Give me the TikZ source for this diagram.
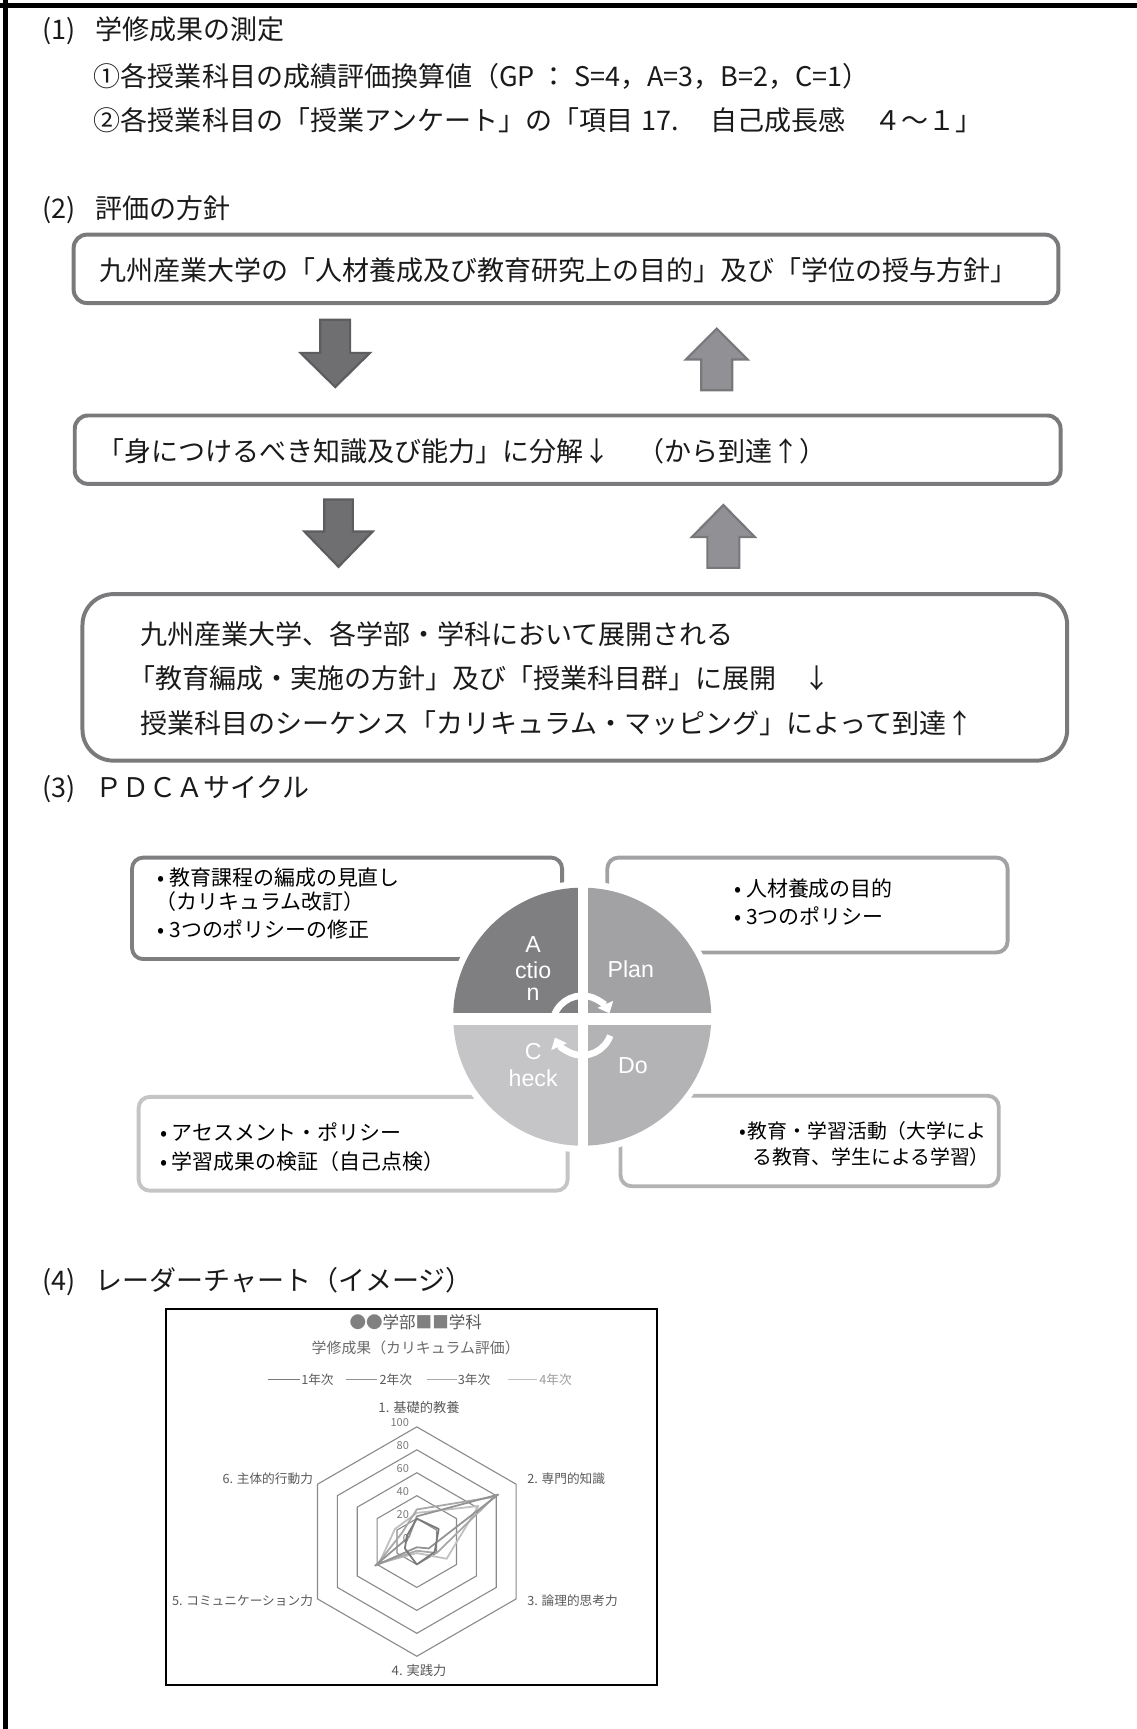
\documentclass[tikz,border=0pt]{standalone}
\usepackage{fontspec}
\setmainfont{Noto Sans CJK JP}
\newfontfamily\latf{Liberation Sans}
\usetikzlibrary{arrows.meta,calc}
\definecolor{txtc}{HTML}{1A1A1A}
\definecolor{boxline}{HTML}{7A7A7C}
\definecolor{dnfill}{HTML}{6F6F71}
\definecolor{dnline}{HTML}{5D5D5F}
\definecolor{upfill}{HTML}{919195}
\definecolor{upline}{HTML}{78787B}
\definecolor{actcol}{HTML}{7F7F82}
\definecolor{plancol}{HTML}{A2A2A5}
\definecolor{chkcol}{HTML}{C5C5C7}
\definecolor{docol}{HTML}{B3B3B5}
\definecolor{rtxt}{HTML}{5A5A5A}
\definecolor{rgridc}{HTML}{8A8A8A}
\definecolor{sera}{HTML}{7A7A7A}
\definecolor{serb}{HTML}{939393}
\definecolor{serc}{HTML}{A8A8A8}
\definecolor{serd}{HTML}{C0C0C0}
\newcommand\radarpoly[7]{\draw[ser,#1] (90:#2*1.04pt) -- (30:#3*1.04pt) -- (-30:#4*1.04pt) -- (-90:#5*1.04pt) -- (-150:#6*1.04pt) -- (150:#7*1.04pt) -- cycle;}
\newcommand\bul{•\hspace{4pt}}
\begin{document}
\begin{tikzpicture}[x=1pt,y=-1pt,
  body/.style={anchor=west,inner sep=0pt,font=\fontsize{24.5}{28}\selectfont,text=txtc},
  mainbox/.style={draw=boxline,line width=3.6pt,rounded corners=12pt,fill=white,anchor=north west,inner sep=0pt},
  dnarr/.style={fill=dnfill,draw=dnline,line width=2pt},
  uparr/.style={fill=upfill,draw=upline,line width=2pt},
  pbox/.style={rounded corners=10pt,line width=3.5pt,fill=white,anchor=north west,inner sep=0pt},
  ptxt/.style={anchor=west,inner sep=0pt,font=\fontsize{19}{22}\selectfont,text=black},
  qlab/.style={inner sep=0pt,text=white,font=\latf\fontsize{21}{24}\selectfont},
  cyc/.style={white,line width=6pt,-{Triangle[width=15pt,length=9pt]}},
  rgrid/.style={draw=rgridc,line width=1pt},
  rlab/.style={inner sep=0pt,font=\fontsize{11.5}{13}\selectfont,text=rtxt},
  lgd/.style={inner sep=0pt,anchor=west,font=\fontsize{11.5}{13}\selectfont,text=rtxt},
  rtick/.style={inner sep=0pt,anchor=east,font=\fontsize{10}{12}\selectfont,text=rtxt!80},
  ser/.style={line width=1.6pt,line join=round},
]
\useasboundingbox (0,0) rectangle (1031,1568);
\fill[white] (0,0) rectangle (1031,1568);
% frame lines
\draw[line width=4.5pt] (0,5) -- (1031,5);
\draw[line width=5pt] (5,0) -- (5,1568);

% (1)
\node[body] (h1) at (38,28) {(1)\hspace{18pt}学修成果の測定};
\node[body] (l1) at (85,69) {①各授業科目の成績評価換算値（GP ： S=4，A=3，B=2，C=1）};
\node[body] (l2) at (85,109) {②各授業科目の「授業アンケート」の「項目\hspace{8pt}17.\hspace{28pt}自己成長感\hspace{26pt}４～１」};

% (2)
\node[body] (h2) at (38,190) {(2)\hspace{18pt}評価の方針};
\node[mainbox,minimum width=893pt,minimum height=62pt] (b1) at (65,211) {};
\node[body] (b1t) at (90,245) {九州産業大学の「人材養成及び教育研究上の目的」及び「学位の授与方針」};
\node[mainbox,minimum width=894pt,minimum height=62pt] (b2) at (66,375) {};
\node[body] (b2t) at (88,409) {「身につけるべき知識及び能力」に分解↓　（から到達↑）};
\node[mainbox,rounded corners=28pt,minimum width=893pt,minimum height=151pt] (b3) at (73,537) {};
\node[body] (b3a) at (127,575) {九州産業大学、各学部・学科において展開される};
\node[body] (b3b) at (116,615) {「教育編成・実施の方針」及び「授業科目群」に展開　↓};
\node[body] (b3c) at (127,656) {授業科目のシーケンス「カリキュラム・マッピング」によって到達↑};

% block arrows
\draw[dnarr] (290.5,290) -- (317.5,290) -- (317.5,320) -- (335.5,320) -- (304,351) -- (272.5,320) -- (290.5,320) -- cycle;
\draw[uparr] (650,298) -- (678,326) -- (664,326) -- (664,354) -- (636,354) -- (636,326) -- (622,326) -- cycle;
\draw[dnarr] (294,453) -- (320,453) -- (320,482) -- (338,482) -- (307,514) -- (276,482) -- (294,482) -- cycle;
\draw[uparr] (656,458) -- (684.5,487) -- (670.5,487) -- (670.5,515) -- (641.5,515) -- (641.5,487) -- (627.5,487) -- cycle;

% (3)
\node[body] (h3) at (38,716) {(3)\hspace{18pt}ＰＤＣＡサイクル};
\node[pbox,draw=actcol,minimum width=390pt,minimum height=92pt] (abox) at (118,776) {};
\node[pbox,draw=plancol,minimum width=363pt,minimum height=86pt] (pbx) at (549,776) {};
\node[pbox,draw=chkcol,minimum width=389pt,minimum height=85pt] (cbox) at (124,993) {};
\node[pbox,draw=docol,minimum width=343pt,minimum height=82pt] (dbox) at (561,992) {};
\coordinate (C) at (528,922);
\fill[white] (C) circle[radius=123pt];
\fill[actcol] (C) -- ++(180:117pt) arc[start angle=180,end angle=90,radius=117pt] -- cycle;
\fill[plancol] (C) -- ++(90:117pt) arc[start angle=90,end angle=0,radius=117pt] -- cycle;
\fill[docol] (C) -- ++(0:117pt) arc[start angle=0,end angle=-90,radius=117pt] -- cycle;
\fill[chkcol] (C) -- ++(-90:117pt) arc[start angle=-90,end angle=-180,radius=117pt] -- cycle;
\draw[white,line width=9pt] ($(C)+(0.5,-125)$) -- ($(C)+(0.5,125)$);
\draw[white,line width=11pt] ($(C)+(-125,2)$) -- ($(C)+(125,2)$);
\coordinate (cc) at (528,930);
\draw[cyc] (cc) ++(160:27pt) arc[start angle=160,end angle=24,radius=27pt];
\draw[cyc] (cc) ++(-20:27pt) arc[start angle=-20,end angle=-156,radius=27pt];
\node[qlab] (qa1) at (483.5,857) {A};
\node[qlab] (qa2) at (483.5,880) {ctio};
\node[qlab] (qa3) at (483.5,902) {n};
\node[qlab] (qp) at (572,879) {Plan};
\node[qlab] (qc1) at (483.5,954) {C};
\node[qlab] (qc2) at (483.5,978) {heck};
\node[qlab] (qd) at (574,966) {Do};
\node[ptxt] (at1) at (143,796) {\bul 教育課程の編成の見直し};
\node[ptxt] (at2) at (141,818) {（カリキュラム改訂）};
\node[ptxt] (at3) at (143,843) {\bul 3つのポリシーの修正};
\node[ptxt] (pt1) at (666,806) {\bul 人材養成の目的};
\node[ptxt] (pt2) at (666,831) {\bul 3つのポリシー};
\node[ptxt] (ct1) at (145,1027) {\bul アセスメント・ポリシー};
\node[ptxt] (ct2) at (145,1053) {\bul 学習成果の検証（自己点検）};
\node[ptxt,font=\fontsize{18}{22}\selectfont] (dt1) at (670,1026) {•\hspace{2pt}教育・学習活動（大学によ};
\node[ptxt,font=\fontsize{18}{22}\selectfont] (dt2) at (682,1049) {る教育、学生による学習）};

% (4)
\node[body] (h4) at (38,1162) {(4)\hspace{18pt}レーダーチャート（イメージ）};
\node[draw=black,line width=2pt,minimum width=445pt,minimum height=341pt,anchor=north west,inner sep=0pt] (rframe) at (149.5,1186) {};
\node[inner sep=0pt,font=\fontsize{15}{17}\selectfont,text=rtxt] (rt1) at (377,1199) {{\color{gray}●●}学部{\color{gray}■■}学科};
\node[inner sep=0pt,font=\fontsize{13.5}{16}\selectfont,text=rtxt!90] (rt2) at (377,1222) {学修成果（カリキュラム評価）};
\draw[sera,line width=1.2pt] (243,1251) -- (272,1251);
\node[lgd] (lg1) at (273,1251) {1年次};
\draw[serb,line width=1.2pt] (314,1251) -- (342,1251);
\node[lgd] (lg2) at (344,1251) {2年次};
\draw[serc,line width=1.2pt] (387,1251) -- (414,1251);
\node[lgd] (lg3) at (415,1251) {3年次};
\draw[serd,line width=1.2pt] (461,1251) -- (487,1251);
\node[lgd,text=rtxt!60] (lg4) at (489,1251) {4年次};
\begin{scope}[shift={(378,1398)}]
\foreach \k in {1,...,5}{
  \draw[rgrid] (90:\k*20.8pt) -- (30:\k*20.8pt) -- (-30:\k*20.8pt) -- (-90:\k*20.8pt) -- (-150:\k*20.8pt) -- (150:\k*20.8pt) -- cycle;
}
\radarpoly{serd}{25}{62}{30}{10}{38}{22}
\radarpoly{serc}{28}{78}{20}{8}{40}{15}
\radarpoly{serb}{22}{82}{12}{5}{42}{8}
\radarpoly{sera}{20}{22}{18}{20}{12}{10}
\node[rtick] (tk100) at (-7,-108) {100};
\node[rtick] (tk80) at (-7,-87) {80};
\node[rtick] (tk60) at (-7,-66) {60};
\node[rtick] (tk40) at (-7,-45.5) {40};
\node[rtick] (tk20) at (-7,-24.5) {20};
\node[rtick] (tk0) at (-7,-3) {0};
\end{scope}
\node[rlab,font=\fontsize{12}{13}\selectfont] (ax1) at (380,1276) {1. 基礎的教養};
\node[rlab,anchor=west] (ax2) at (478,1341) {2. 専門的知識};
\node[rlab,anchor=west] (ax3) at (478,1452) {3. 論理的思考力};
\node[rlab,font=\fontsize{12}{13}\selectfont] (ax4) at (380,1515) {4. 実践力};
\node[rlab,anchor=east] (ax5) at (284,1452) {5. コミュニケーション力};
\node[rlab,anchor=east] (ax6) at (284,1341) {6. 主体的行動力};
\end{tikzpicture}
\end{document}
